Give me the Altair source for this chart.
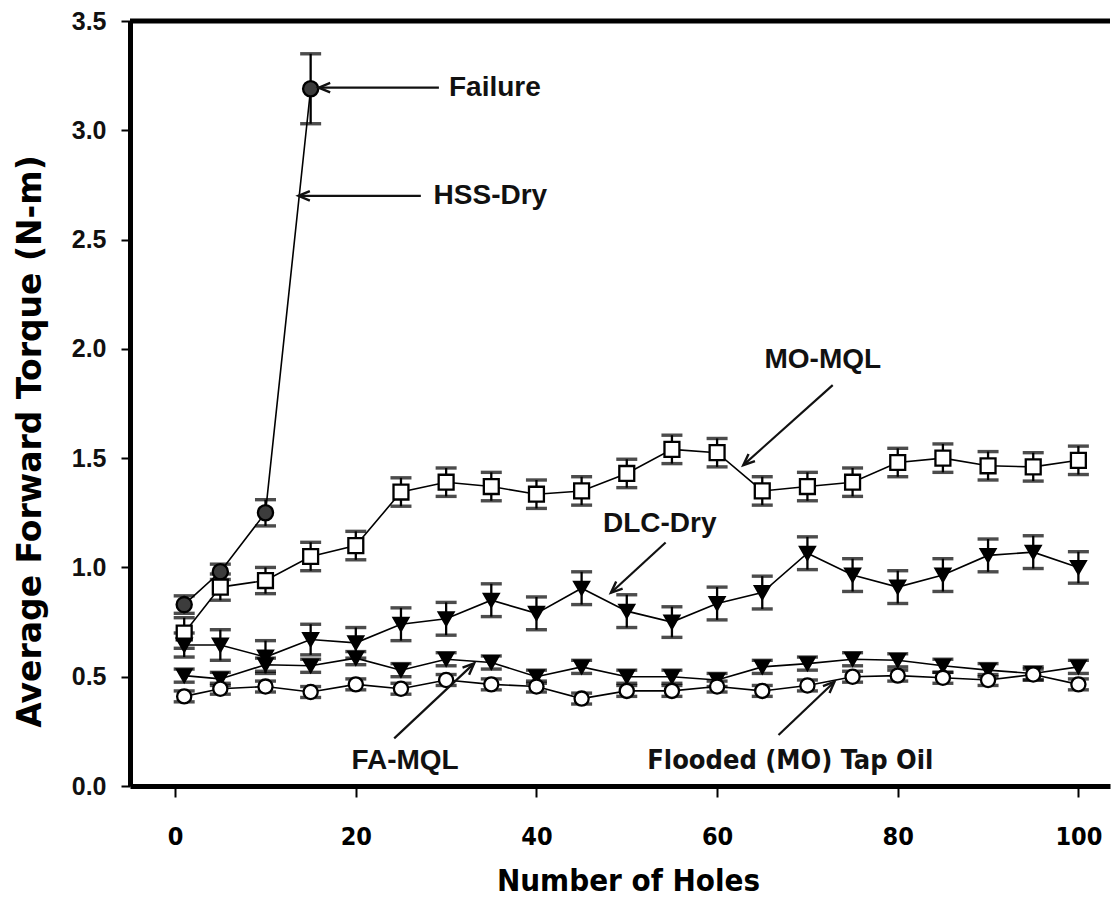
import altair as alt
import pandas as pd

# ---------------- data ----------------
HOLES = [1, 5, 10, 15, 20, 25, 30, 35, 40, 45, 50, 55, 60, 65, 70, 75, 80, 85, 90, 95, 100]

HSS_HOLES = [1, 5, 10, 15]
HSS_DRY = [0.83, 0.98, 1.25, 3.19]
HSS_ERR = [0.04, 0.035, 0.06, 0.16]

MO_MQL = [0.70, 0.91, 0.94, 1.05, 1.10, 1.345, 1.39, 1.37, 1.335, 1.35, 1.43,
          1.54, 1.525, 1.35, 1.37, 1.39, 1.48, 1.50, 1.465, 1.46, 1.49]
MO_ERR = [0.07, 0.06, 0.06, 0.065, 0.065, 0.065, 0.065, 0.065, 0.065, 0.065, 0.065,
          0.065, 0.065, 0.065, 0.065, 0.065, 0.065, 0.065, 0.065, 0.065, 0.065]

DLC_DRY = [0.645, 0.645, 0.59, 0.67, 0.655, 0.74, 0.765, 0.85, 0.79, 0.905, 0.80,
           0.75, 0.835, 0.885, 1.065, 0.965, 0.91, 0.965, 1.055, 1.07, 1.0]
DLC_ERR = [0.055, 0.07, 0.075, 0.07, 0.07, 0.075, 0.075, 0.075, 0.075, 0.075, 0.075,
           0.07, 0.075, 0.075, 0.075, 0.075, 0.075, 0.075, 0.075, 0.075, 0.072]

FA_MQL = [0.505, 0.49, 0.555, 0.55, 0.585, 0.53, 0.58, 0.565, 0.50, 0.545, 0.50,
          0.50, 0.485, 0.545, 0.56, 0.58, 0.575, 0.55, 0.53, 0.515, 0.545]
FA_ERR = [0.03] * 21

FLOODED = [0.41, 0.445, 0.455, 0.43, 0.465, 0.445, 0.485, 0.465, 0.455, 0.40, 0.435,
           0.435, 0.455, 0.435, 0.46, 0.50, 0.505, 0.495, 0.485, 0.51, 0.465]
FLOODED_ERR = [0.025] * 21

SERIES = ["HSS-Dry", "MO-MQL", "DLC-Dry", "FA-MQL", "Flooded (MO) Tap Oil"]
SHAPES = ["circle", "square", "triangle-down", "triangle-down", "circle"]
FILLS = ["#3c3c3c", "white", "black", "black", "white"]
SIZES = [230, 200, 310, 310, 200]

# annotations (data units)
ANN_LABELS = ["Failure", "HSS-Dry", "MO-MQL", "DLC-Dry", "FA-MQL"]
ANN_X = [35.4, 34.9, 71.7, 53.65, 25.45]
ANN_Y = [3.195, 2.70, 1.95, 1.20, 0.115]
ANN2_LABELS = ["Flooded (MO) Tap Oil"]
ANN2_X = [68.1]
ANN2_Y = [0.115]

ARROW_X = [29.2, 27.2, 72.8, 54.3, 24.25, 66.8]
ARROW_Y = [3.195, 2.70, 1.834, 1.114, 0.218, 0.233]
ARROW_X2 = [15.9, 13.65, 62.9, 48.25, 33.1, 73.0]
ARROW_Y2 = [3.195, 2.70, 1.468, 0.884, 0.561, 0.477]
ARROW_ANGLE = [180, 180, 138, 137.7, 316.8, 316.6]

# ---------------- tables ----------------
rows = []
def add(name, xs, ys, es):
    for x, y, e in zip(xs, ys, es):
        rows.append({"x": x, "y": y, "lo": y - e, "hi": y + e, "series": name})

add("HSS-Dry", HSS_HOLES, HSS_DRY, HSS_ERR)
add("MO-MQL", HOLES, MO_MQL, MO_ERR)
add("DLC-Dry", HOLES, DLC_DRY, DLC_ERR)
add("FA-MQL", HOLES, FA_MQL, FA_ERR)
add("Flooded (MO) Tap Oil", HOLES, FLOODED, FLOODED_ERR)
df = pd.DataFrame(rows)

ann = pd.DataFrame({"x": ANN_X, "y": ANN_Y, "label": ANN_LABELS})
ann2 = pd.DataFrame({"x": ANN2_X, "y": ANN2_Y, "label": ANN2_LABELS})
arrows = pd.DataFrame({"x": ARROW_X, "y": ARROW_Y, "x2": ARROW_X2, "y2": ARROW_Y2,
                       "angle": ARROW_ANGLE})
frame = pd.DataFrame({"y": [3.5]})

# ---------------- scales / axes ----------------
ARIAL = "Liberation Sans, Arial, sans-serif"
COND = "DejaVu Sans Condensed, Liberation Sans, sans-serif"

XS = alt.Scale(domain=[-5, 103.5], nice=False, zero=False)
YS = alt.Scale(domain=[0, 3.5], nice=False, zero=True)

XAXIS = alt.Axis(values=[0, 20, 40, 60, 80, 100], title="Number of Holes",
                 grid=False, domainWidth=5, domainColor="black",
                 tickColor="black", tickWidth=2, tickSize=11,
                 labelFont=COND, labelFontSize=25, labelFontWeight="bold",
                 labelColor="black", labelPadding=27,
                 titleFont=COND, titleFontSize=31, titleFontWeight="bold",
                 titleColor="black", titleX=498, titleY=95,
                 titleBaseline="middle", titleAnchor="middle")
YAXIS = alt.Axis(values=[0, 0.5, 1.0, 1.5, 2.0, 2.5, 3.0, 3.5], format=".1f",
                 title="Average Forward Torque (N-m)",
                 grid=False, domainWidth=5, domainColor="black",
                 tickColor="black", tickWidth=2, tickSize=9,
                 labelFont=ARIAL, labelFontSize=25, labelFontWeight="bold",
                 labelColor="#111111", labelPadding=15,
                 titleFont="DejaVu Sans, sans-serif", titleFontSize=33,
                 titleFontWeight="bold", titleColor="black",
                 titleX=-100, titleY=420, titleBaseline="middle",
                 titleAngle=270, titleAnchor="middle")

def X(field):
    return alt.X(field, type="quantitative", scale=XS, axis=XAXIS)

def Y(field):
    return alt.Y(field, type="quantitative", scale=YS, axis=YAXIS)

base = alt.Chart(df)

lines = base.mark_line(color="black", strokeWidth=1.6).encode(
    x=X("x"), y=Y("y"), detail="series:N", order="x:Q")

err = base.mark_rule(color="black", strokeWidth=2.3).encode(
    x=X("x"), y=Y("lo"), y2="hi")
cap_lo = base.mark_tick(color="black", orient="horizontal", size=21,
                        thickness=3.4).encode(x=X("x"), y=Y("lo"))
cap_hi = base.mark_tick(color="black", orient="horizontal", size=21,
                        thickness=3.4).encode(x=X("x"), y=Y("hi"))

points = base.mark_point(filled=True, stroke="black", strokeWidth=2.3,
                         opacity=1).encode(
    x=X("x"), y=Y("y"),
    shape=alt.Shape("series:N", scale=alt.Scale(domain=SERIES, range=SHAPES), legend=None),
    fill=alt.Fill("series:N", scale=alt.Scale(domain=SERIES, range=FILLS), legend=None),
    size=alt.Size("series:N", scale=alt.Scale(domain=SERIES, range=SIZES), legend=None),
)

top = alt.Chart(frame).mark_rule(color="black", strokeWidth=5).encode(y=Y("y"))

arrow_lines = alt.Chart(arrows).mark_rule(color="#111111", strokeWidth=2.2).encode(
    x=X("x"), y=Y("y"), x2="x2", y2="y2")
arrow_heads = alt.Chart(arrows).mark_point(
    shape="M -1 -0.42 L 0 0 L -1 0.42", filled=False, stroke="#111111",
    strokeWidth=2.4, size=520, opacity=1).encode(
    x=X("x2"), y=Y("y2"), angle=alt.Angle("angle:Q", scale=None))

texts = alt.Chart(ann).mark_text(font=ARIAL, fontSize=28, fontWeight="bold",
                                 color="#111111", align="center",
                                 baseline="middle").encode(
    x=X("x"), y=Y("y"), text="label:N")
texts2 = alt.Chart(ann2).mark_text(font=COND, fontSize=27, fontWeight="bold",
                                   color="#111111", align="center",
                                   baseline="middle").encode(
    x=X("x"), y=Y("y"), text="label:N")

chart = alt.layer(lines, err, cap_lo, cap_hi, points, top, arrow_lines,
                  arrow_heads, texts, texts2).properties(
    width=980, height=765,
    autosize=alt.AutoSizeParams(type="none"),
    padding={"left": 122, "top": 13, "right": 2, "bottom": 116},
    background="white",
).configure_view(stroke=None)

chart.save("out.html", embed_options={"renderer": "svg", "actions": False})
